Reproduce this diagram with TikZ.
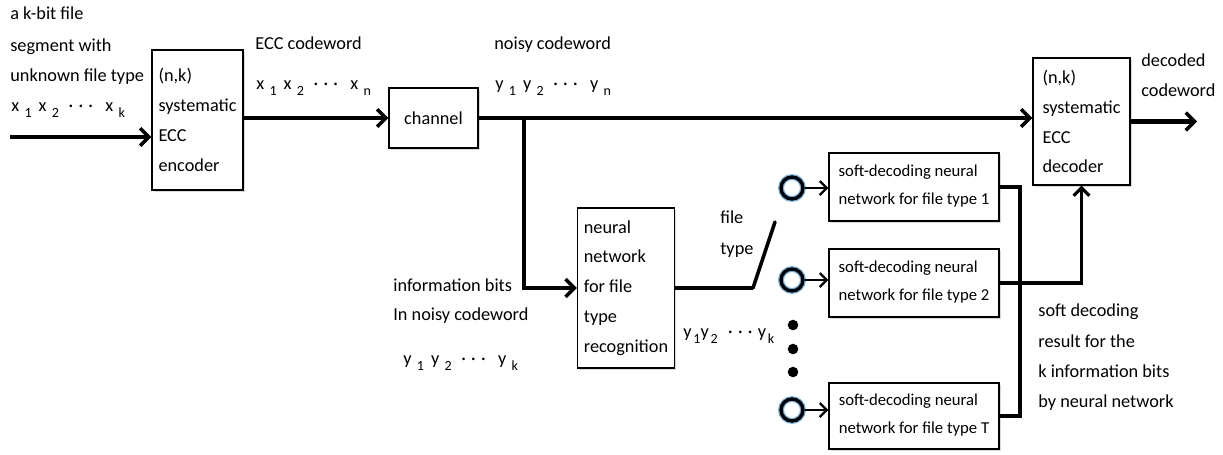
\documentclass[tikz,border=0pt]{standalone}
\usepackage{fontspec}
\setmainfont{Carlito}
\usetikzlibrary{arrows.meta,shadows}
\newcommand{\subsc}[1]{\kern3pt\raisebox{-0.7ex}{\footnotesize #1}}
\newcommand{\cdd}{\textperiodcentered\kern3pt\textperiodcentered\kern3pt\textperiodcentered}
\begin{document}
\begin{tikzpicture}[x=0.02cm,y=-0.02cm,
  font=\fontsize{10.4}{17}\selectfont,
  box/.style={draw,line width=0.7pt,fill=white,inner xsep=0.13cm,inner ysep=0pt,align=left,
    drop shadow={shadow xshift=1pt,shadow yshift=-1pt,opacity=0.3}},
  lbl/.style={anchor=west,inner sep=0pt,text height=7pt,text depth=2pt},
  thk/.style={line width=2.4pt,-{Straight Barb[length=5pt,width=10pt,line width=2pt]}},
  med/.style={line width=1.8pt},
  thn/.style={line width=1.3pt,-{Straight Barb[length=4pt,width=8pt,line width=1.3pt]}},
  port/.style={circle,draw=black,line width=1.9pt,minimum width=10pt,minimum height=12.5pt,inner sep=0pt,
    preaction={draw=cyan!60!blue,line width=3.3pt,opacity=0.6}},
  dot/.style={circle,fill=black,inner sep=0pt,minimum size=6pt},
  soft/.style={box,minimum width=3.4cm,minimum height=1.36cm,text depth=3pt,font=\fontsize{9.5}{16}\selectfont}
]
\useasboundingbox (0,0) rectangle (1223,454);

% boxes
\node[box,minimum width=1.78cm,minimum height=2.8cm] (enc) at (197.5,120)
  {(n,k)\\systematic\\ECC\\encoder};
\node[box,align=center,minimum width=1.78cm,minimum height=1.2cm] (chan) at (433.5,118) {channel};
\node[box,minimum width=1.94cm,minimum height=2.54cm] (dec) at (1081.5,121.5)
  {(n,k)\\systematic\\ECC\\decoder};
\node[box,minimum width=1.92cm,minimum height=3.2cm] (nn) at (626,288)
  {neural\\network\\for file\\type\\recognition};
\node[soft] (s1) at (914,187) {soft-decoding neural\\network for file type 1};
\node[soft] (s2) at (914,283) {soft-decoding neural\\network for file type 2};
\node[soft,minimum height=1.32cm] (s3) at (914,416) {soft-decoding neural\\network for file type T};

% ports and dots
\node[port] (c1) at (792,188) {};
\node[port] (c2) at (792,280) {};
\node[port] (c3) at (792,410) {};
\node[dot] (d1) at (793,325) {};
\node[dot] (d2) at (793,349) {};
\node[dot] (d3) at (793,372) {};

% coordinates
\coordinate (in) at (10,137);
\coordinate (out) at (1197,121.5);
\coordinate (br) at (524,118);
\coordinate (sw1) at (753,288);
\coordinate (sw2) at (775,222);
\coordinate (jn) at (1020,416);

% connectors
\draw[thk] (in) -- (enc.west |- in);
\draw[thk] (enc.east |- chan.west) -- (chan.west);
\draw[thk] (chan.east) -- (dec.west |- chan.east);
\draw[thk] (dec.east) -- (out);
\draw[thk] (br) |- (nn.west);
\draw[line width=2.4pt] (nn.east) -- (sw1);
\draw[line width=2pt,line cap=round] (sw1) -- (sw2);
\draw[thn] (c1.east) -- (s1.west |- c1);
\draw[thn] (c2.east) -- (s2.west |- c2);
\draw[thn] (c3.east) -- (s3.west |- c3);
\draw[med] (s1.east) -| (jn) -- (s3.east |- jn);
\draw[med,-{Straight Barb[length=4.5pt,width=9pt,line width=1.8pt]}] (s2.east) -| (dec.south);

% labels
\node[lbl] (t1) at (10,15) {a k-bit file};
\node[lbl] (t2) at (10,47) {segment with};
\node[lbl] (t3) at (10,77) {unknown file type};
\node[lbl] (t4) at (11,107) {x\subsc{1}\hspace{4pt}x\subsc{2}\hspace{5.5pt}\cdd\hspace{7pt}x\subsc{k}};
\node[lbl] (t5) at (255,45) {ECC codeword};
\node[lbl] (t6) at (256,85) {x\subsc{1}\hspace{4pt}x\subsc{2}\hspace{5.5pt}\cdd\hspace{7pt}x\subsc{n}};
\node[lbl] (t7) at (494,45) {noisy codeword};
\node[lbl] (t8) at (495,85) {y\subsc{1}\hspace{4pt}y\subsc{2}\hspace{5.5pt}\cdd\hspace{7pt}y\subsc{n}};
\node[lbl] (t9) at (1141,62) {decoded};
\node[lbl] (t10) at (1141,92) {codeword};
\node[lbl] (t11) at (393,287) {information bits};
\node[lbl] (t12) at (393,316) {In noisy codeword};
\node[lbl] (t13) at (403,360) {y\subsc{1}\hspace{4pt}y\subsc{2}\hspace{5.5pt}\cdd\hspace{7pt}y\subsc{k}};
\node[lbl] (t14) at (720,219) {file};
\node[lbl] (t15) at (720,250) {type};
\node[lbl] (t16) at (683,333) {y\kern1pt\raisebox{-0.7ex}{\footnotesize 1}y\kern1pt\raisebox{-0.7ex}{\footnotesize 2}\hspace{6pt}\cdd\hspace{3pt}y\kern1pt\raisebox{-0.7ex}{\footnotesize k}};
\node[lbl] (t17) at (1038,312) {soft decoding};
\node[lbl] (t18) at (1038,343) {result for the};
\node[lbl] (t19) at (1038,373) {k information bits};
\node[lbl] (t20) at (1038,403) {by neural network};
\end{tikzpicture}
\end{document}
